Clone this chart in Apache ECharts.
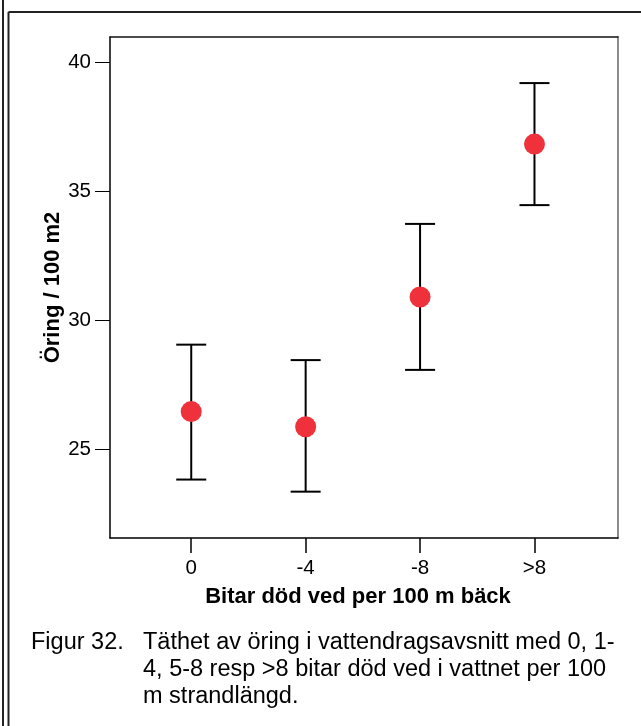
<!DOCTYPE html>
<html>
<head>
<meta charset="utf-8">
<script src="https://cdn.jsdelivr.net/npm/echarts@6/dist/echarts.min.js"></script>
<style>
html,body{margin:0;padding:0;background:#fff;}
#c{width:641px;height:726px;}
</style>
</head>
<body>
<div id="c"></div>
<script>
const categories = ['0', '-4', '-8', '>8'];
const means = [26.45, 25.86, 30.9, 36.84];
const upper = [29.05, 28.45, 33.74, 39.21];
const lower = [23.81, 23.34, 28.07, 34.47];
const yTicks = [25, 30, 35, 40];
const xPositions = [1, 2, 3, 4];
const yTitle = 'Öring / 100 m2';
const xTitle = 'Bitar död ved per 100 m bäck';
const captionLabel = 'Figur 32.';
const captionText = ['Täthet av öring i vattendragsavsnitt med 0, 1-', '4, 5-8 resp >8 bitar död ved i vattnet per 100', 'm strandlängd.'];

const FONT = 'Liberation Sans, Arial, Helvetica, sans-serif';
const chart = echarts.init(document.getElementById('c'), null, {renderer: 'canvas'});

const pointData = xPositions.map((x, i) => [x, means[i]]);
const errData = xPositions.map((x, i) => [x, lower[i], upper[i]]);

chart.setOption({
  animation: false,
  backgroundColor: '#fff',
  grid: {left: 110, top: 37, right: 23, bottom: 188, show: false},
  xAxis: [{
    type: 'value', min: 0.29, max: 4.73,
    axisLine: {show: true, lineStyle: {color: '#000', width: 1.5}},
    axisTick: {show: true, customValues: xPositions, length: 15, lineStyle: {color: '#000', width: 1.5}},
    axisLabel: {show: true, customValues: xPositions, margin: 20, fontSize: 20.5, color: '#000', fontFamily: FONT,
      formatter: v => categories[Math.round(v) - 1]},
    splitLine: {show: false},
    name: xTitle, nameLocation: 'middle', nameGap: 48, nameMoveOverlap: false,
    nameTextStyle: {fontSize: 22, fontWeight: 'bold', color: '#000', fontFamily: FONT, padding: [0, 12, 0, 0]}
  }, {
    type: 'value', position: 'top', min: 0.29, max: 4.73,
    axisLine: {show: true, lineStyle: {color: '#111', width: 1.5}},
    axisTick: {show: false}, axisLabel: {show: false}, splitLine: {show: false}
  }],
  yAxis: [{
    type: 'value', min: 21.54, max: 41.0,
    axisLine: {show: true, lineStyle: {color: '#000', width: 1.5}},
    axisTick: {show: true, customValues: yTicks, length: 15, lineStyle: {color: '#000', width: 1}},
    axisLabel: {show: true, customValues: yTicks, margin: 19, fontSize: 20.5, color: '#000', fontFamily: FONT},
    splitLine: {show: false},
    name: yTitle, nameLocation: 'middle', nameGap: 46, nameMoveOverlap: false,
    nameTextStyle: {fontSize: 22, fontWeight: 'bold', color: '#000', fontFamily: FONT}
  }, {
    type: 'value', position: 'right', min: 21.54, max: 41.0,
    axisLine: {show: true, lineStyle: {color: '#666', width: 1.5}},
    axisTick: {show: false}, axisLabel: {show: false}, splitLine: {show: false}
  }],
  title: [{
    text: captionLabel, left: 31, top: 629, padding: 0,
    textStyle: {fontSize: 23.5, fontWeight: 'normal', color: '#000', fontFamily: FONT, lineHeight: 27}
  }, {
    text: captionText.join('\n'), left: 143, top: 629, padding: 0,
    textStyle: {fontSize: 23.5, fontWeight: 'normal', color: '#000', fontFamily: FONT, lineHeight: 27}
  }],
  graphic: [
    {type: 'line', shape: {x1: 3, y1: 0, x2: 3, y2: 726}, style: {stroke: '#222', lineWidth: 2}},
    {type: 'line', shape: {x1: 8.5, y1: 12, x2: 8.5, y2: 726}, style: {stroke: '#222', lineWidth: 2}},
    {type: 'line', shape: {x1: 8.5, y1: 12, x2: 641, y2: 12}, style: {stroke: '#222', lineWidth: 2}}
  ],
  series: [{
    type: 'custom',
    data: errData,
    z: 2,
    renderItem: function (params, api) {
      const x = api.value(0);
      const top = api.coord([x, api.value(2)]);
      const bot = api.coord([x, api.value(1)]);
      const hw = 15;
      const st = {stroke: '#000', lineWidth: 2};
      return {type: 'group', children: [
        {type: 'line', shape: {x1: top[0], y1: top[1], x2: bot[0], y2: bot[1]}, style: st},
        {type: 'line', shape: {x1: top[0] - hw, y1: top[1], x2: top[0] + hw, y2: top[1]}, style: st},
        {type: 'line', shape: {x1: bot[0] - hw, y1: bot[1], x2: bot[0] + hw, y2: bot[1]}, style: st}
      ]};
    }
  }, {
    type: 'scatter',
    data: pointData,
    symbol: 'circle',
    symbolSize: 21,
    z: 3,
    itemStyle: {color: '#ef313b', opacity: 1}
  }]
});
</script>
</body>
</html>
